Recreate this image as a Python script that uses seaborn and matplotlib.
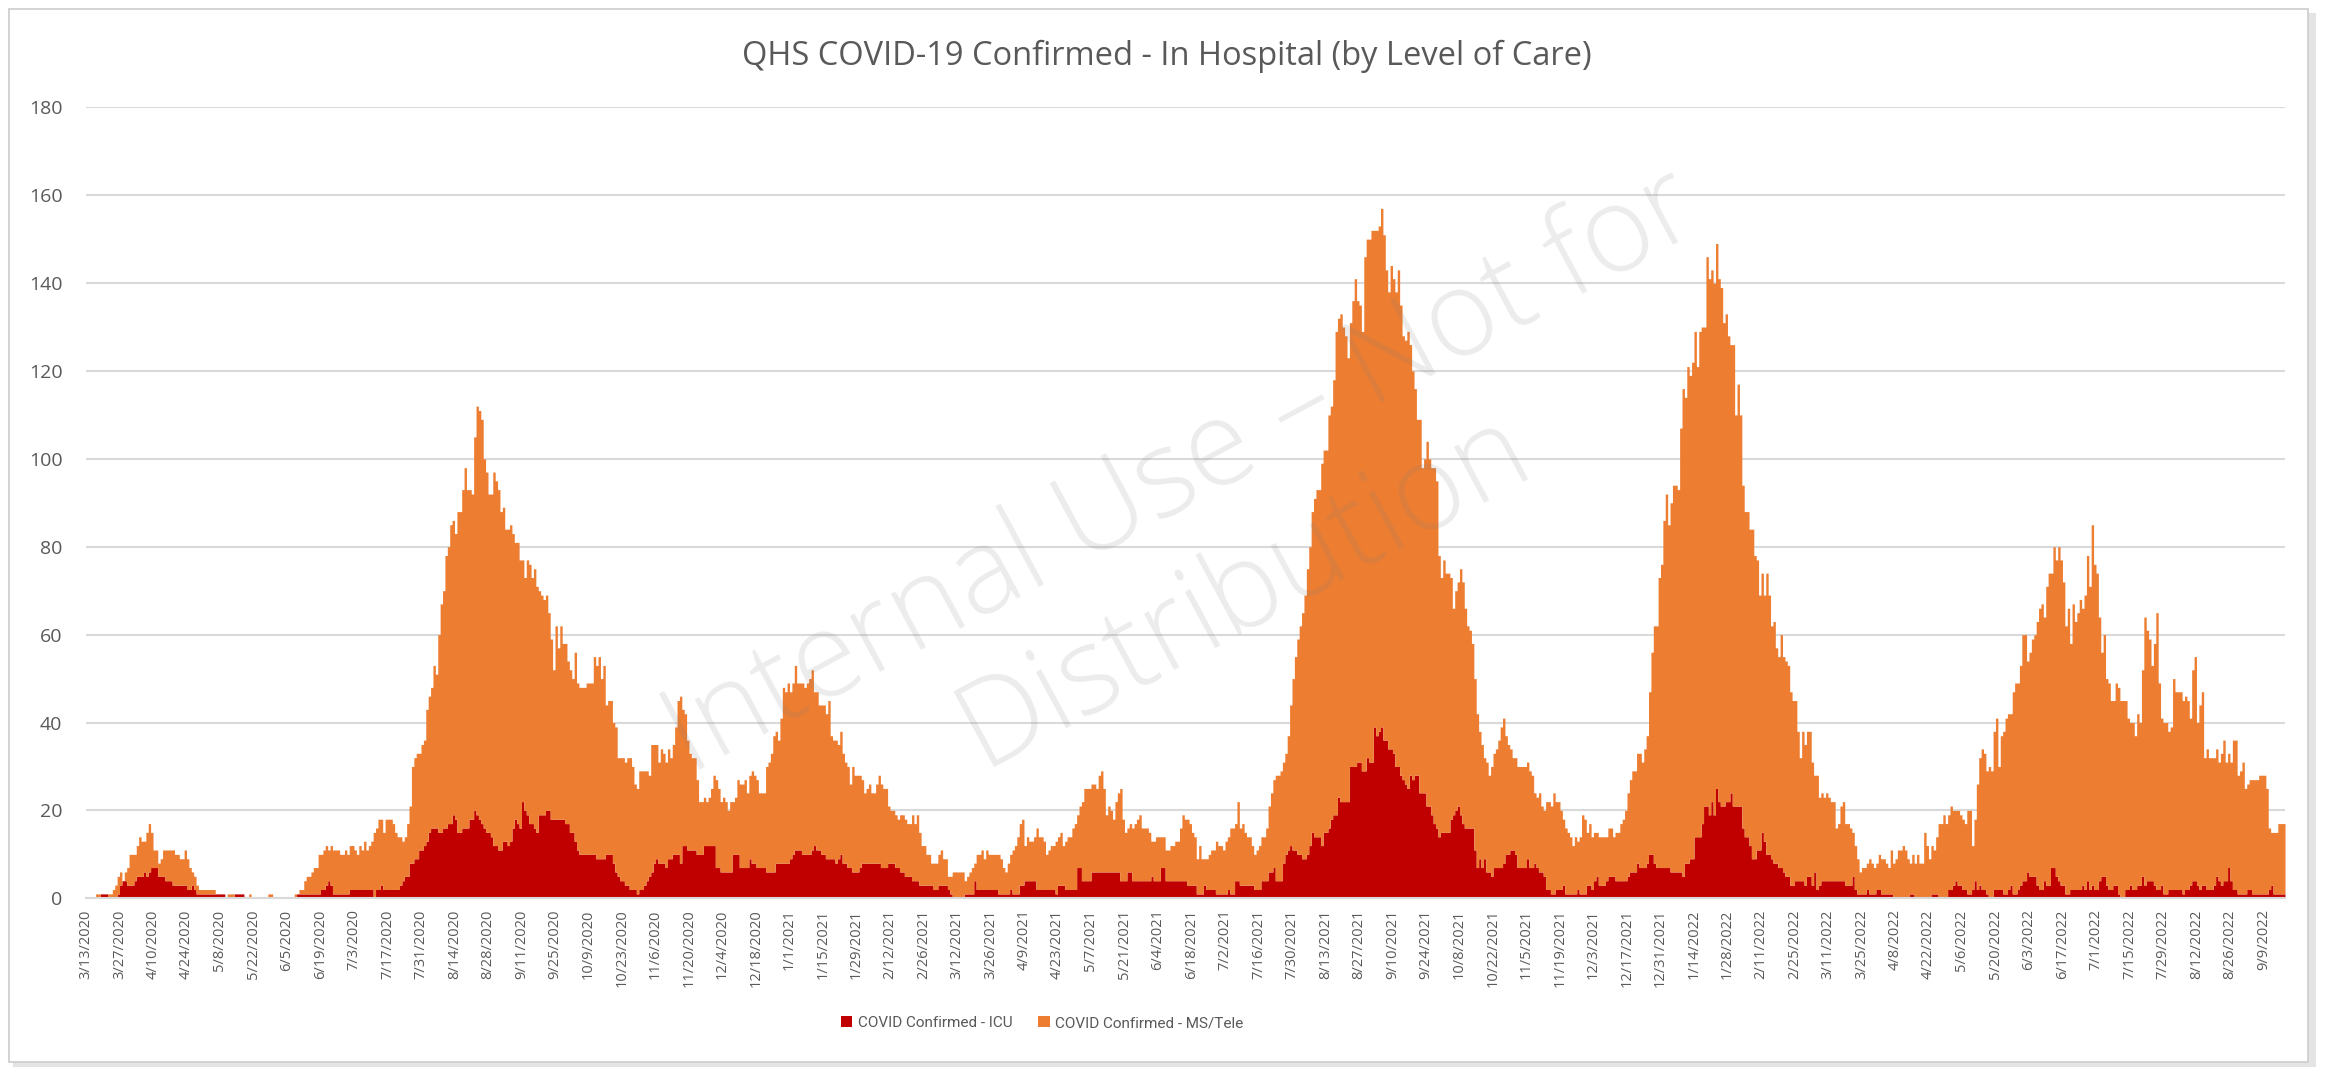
import numpy as np
import pandas as pd
import matplotlib
matplotlib.use("Agg")
import matplotlib.pyplot as plt
import seaborn as sns
from matplotlib.patches import Rectangle, Patch
from matplotlib import font_manager

# ---------------- data (daily census, starting 3/13/2020) ----------------
start_date = "2020-03-13"
series_icu = "COVID Confirmed - ICU"
series_ms = "COVID Confirmed - MS/Tele"
chart_title = "QHS COVID-19 Confirmed - In Hospital (by Level of Care)"
watermark_text = "Internal Use \u2013 Not for\nDistribution"

# total patients in hospital (ICU + MS/Tele) per day
total_in_hospital = [
    0, 0, 0, 0, 1, 1, 1, 1, 1, 1, 1, 2, 3, 5,
    6, 4, 6, 7, 10, 10, 10, 12, 14, 13, 13, 15, 17, 15,
    11, 11, 8, 9, 11, 11, 11, 11, 11, 10, 10, 9, 9, 11,
    9, 7, 6, 5, 3, 2, 2, 2, 2, 2, 2, 2, 1, 1,
    1, 1, 0, 1, 1, 1, 1, 1, 1, 1, 0, 0, 1, 0,
    0, 0, 0, 0, 0, 0, 1, 1, 0, 0, 0, 0, 0, 0,
    0, 0, 0, 1, 1, 2, 2, 4, 5, 5, 6, 7, 7, 10,
    10, 11, 12, 11, 12, 11, 11, 11, 10, 10, 11, 10, 12, 12,
    11, 10, 12, 11, 13, 11, 12, 13, 15, 16, 18, 18, 15, 18,
    18, 18, 17, 15, 14, 14, 13, 14, 17, 21, 30, 32, 33, 33,
    35, 36, 43, 46, 48, 53, 51, 60, 67, 70, 78, 80, 85, 86,
    83, 88, 88, 93, 98, 93, 93, 92, 105, 112, 111, 109, 100, 97,
    92, 92, 97, 95, 93, 88, 89, 84, 84, 85, 83, 81, 81, 77,
    77, 73, 77, 76, 73, 75, 71, 70, 69, 68, 69, 65, 59, 52,
    62, 57, 62, 58, 58, 54, 52, 50, 56, 49, 48, 48, 48, 49,
    49, 49, 55, 53, 55, 50, 53, 44, 45, 45, 40, 39, 32, 32,
    32, 31, 32, 32, 30, 26, 25, 29, 29, 29, 29, 28, 35, 35,
    35, 31, 34, 33, 31, 34, 32, 35, 39, 45, 46, 43, 42, 36,
    33, 32, 32, 27, 22, 22, 23, 22, 23, 25, 28, 27, 25, 22,
    23, 22, 20, 22, 22, 23, 27, 26, 26, 27, 24, 28, 29, 28,
    27, 24, 24, 24, 30, 31, 33, 37, 38, 36, 41, 48, 47, 49,
    47, 49, 53, 49, 49, 49, 48, 49, 50, 52, 47, 47, 44, 44,
    44, 42, 45, 37, 36, 36, 35, 38, 33, 31, 30, 26, 30, 28,
    28, 28, 27, 24, 25, 26, 24, 24, 26, 28, 26, 25, 25, 21,
    20, 20, 19, 18, 19, 19, 18, 17, 17, 19, 17, 19, 15, 12,
    12, 10, 10, 8, 8, 8, 10, 11, 9, 9, 5, 5, 6, 6,
    6, 6, 6, 4, 5, 6, 7, 8, 10, 10, 11, 9, 11, 10,
    10, 10, 10, 10, 9, 7, 6, 8, 10, 11, 12, 14, 17, 18,
    12, 14, 13, 13, 14, 16, 14, 14, 13, 10, 11, 12, 12, 13,
    14, 15, 12, 13, 14, 14, 16, 17, 19, 21, 22, 25, 25, 25,
    26, 26, 25, 28, 29, 25, 19, 21, 20, 18, 22, 24, 25, 18,
    15, 16, 17, 16, 17, 18, 19, 16, 16, 16, 15, 13, 13, 14,
    14, 14, 14, 11, 11, 12, 12, 13, 13, 16, 19, 18, 18, 17,
    15, 14, 9, 12, 9, 9, 9, 10, 11, 11, 13, 12, 12, 11,
    13, 14, 16, 16, 17, 22,
    16, 17, 15, 14, 14, 12, 10, 11, 12, 14, 14, 16, 21, 24,
    27, 28, 28, 29, 31, 33, 37, 44, 50, 55, 59, 62, 65, 69,
    75, 80, 88, 91, 93, 93, 99, 102, 102, 110, 112, 118, 129, 132,
    133, 130, 128, 123, 131, 136, 141, 136, 135, 129, 146, 150, 150, 152,
    152, 152, 153, 157, 151, 143, 138, 144, 141, 138, 143, 135, 128, 127,
    129, 126, 120, 116, 109, 109, 98, 100, 104, 100, 98, 98, 95, 78,
    73, 77, 74, 74, 73, 66, 70, 72, 75, 72, 66, 62, 61, 58,
    50, 42,
    38, 35, 32, 31, 28, 30, 33, 34, 36, 39, 41, 37, 35, 34,
    32, 32, 30, 30, 30, 30, 31, 29, 28, 24, 23, 24, 21, 20,
    22, 22, 21, 24, 22, 22, 20, 18, 16, 15, 14, 12, 14, 13,
    14, 19, 18, 15, 17, 14, 15, 15,
    14, 14, 14, 14, 16, 16, 14, 15, 15, 17, 18, 20, 24, 27,
    29, 29, 33, 33, 31, 34, 37, 47, 56, 62, 62, 73, 76, 86,
    92, 85, 90, 94, 94, 93, 107, 116, 114, 121, 119, 122, 129, 121,
    129, 130, 130, 146, 141, 143, 140, 149, 141, 139, 131, 133, 128, 126,
    126, 110, 117, 110, 94, 88, 88, 84, 84, 78, 77, 69, 74, 69,
    74, 69, 62, 63, 57, 55, 60, 55, 54, 53, 47, 45, 45, 38,
    32, 38, 35, 38, 38, 31, 28, 28, 23, 24, 23, 24, 23, 22,
    22, 16, 17, 21, 22, 17, 17, 16, 15, 12, 9, 6, 7, 7,
    8, 9, 8, 7, 8, 10, 9, 9, 8, 7, 11, 8, 9, 11,
    11, 12, 11, 9, 8, 10, 8, 10, 8, 8, 15, 12, 9, 12,
    11, 14, 17, 17, 19, 17, 19, 21, 20, 20, 20, 19, 18, 17,
    20, 20, 12, 18, 26, 32, 34, 33, 29, 30, 29, 38, 41, 30,
    37, 38, 41, 42, 42, 47, 49, 49, 53, 60, 60, 54, 56, 59,
    60, 63, 66, 67, 64, 71, 74, 74, 80, 77, 80, 77, 72, 62,
    66, 58, 67, 63, 65, 68, 66, 69, 78, 71, 85, 76, 74, 64,
    56, 60, 50, 49, 45, 45, 49, 48, 45, 45, 45, 41, 40, 40,
    37, 42, 40, 52, 64, 61, 59, 53, 58, 65, 49, 41, 40, 40,
    38, 39, 50, 47, 47, 47, 45, 46, 45, 41, 52, 55, 40, 44,
    47, 32, 34, 32, 32, 32, 34, 31, 33, 36, 31, 33, 31, 36,
    36, 28, 29, 31, 25, 26, 27, 27, 27, 27, 28, 28, 28, 25,
    16, 15, 15, 15, 17, 17, 17,
]

# ICU patients per day (bottom, dark red segment)
icu = [
    0, 0, 0, 0, 0, 0, 1, 1, 1, 0, 0, 0, 0, 1,
    3, 4, 4, 3, 3, 3, 4, 5, 5, 5, 6, 5, 6, 7,
    7, 7, 5, 5, 5, 4, 4, 4, 3, 3, 3, 3, 3, 3,
    2, 2, 3, 2, 1, 1, 1, 1, 1, 1, 1, 1, 1, 1,
    1, 1, 0, 0, 0, 0, 1, 1, 1, 1, 0, 0, 0, 0,
    0, 0, 0, 0, 0, 0, 0, 0, 0, 0, 0, 0, 0, 0,
    0, 0, 0, 0, 1, 1, 1, 1, 1, 1, 1, 1, 1, 1,
    2, 2, 3, 4, 3, 1, 1, 1, 1, 1, 1, 1, 2, 2,
    2, 2, 2, 2, 2, 2, 2, 2, 0, 2, 2, 3, 2, 2,
    2, 2, 2, 2, 2, 3, 4, 5, 5, 8, 8, 9, 9, 11,
    11, 12, 13, 15, 16, 16, 16, 15, 15, 16, 16, 17, 17, 19,
    18, 15, 15, 16, 16, 16, 18, 18, 20, 19, 18, 17, 16, 15,
    15, 14, 12, 12, 11, 11, 13, 13, 12, 13, 16, 18, 17, 16,
    22, 20, 19, 17, 17, 16, 15, 19, 19, 19, 20, 20, 18, 18,
    18, 18, 18, 18, 17, 17, 15, 15, 13, 11, 10, 10, 10, 10,
    10, 10, 10, 9, 9, 9, 9, 10, 10, 10, 8, 6, 5, 4,
    4, 3, 3, 2, 2, 2, 1, 2, 2, 3, 4, 5, 6, 8,
    9, 8, 8, 8, 7, 9, 9, 10, 10, 10, 8, 12, 12, 11,
    11, 11, 11, 10, 10, 10, 12, 12, 12, 12, 12, 7, 7, 6,
    6, 6, 6, 6, 10, 10, 10, 7, 7, 7, 7, 9, 8, 8,
    7, 7, 7, 7, 6, 6, 6, 6, 8, 8, 8, 8, 8, 8,
    9, 10, 11, 11, 11, 10, 10, 10, 10, 11, 12, 11, 11, 10,
    10, 9, 9, 9, 9, 8, 9, 10, 8, 8, 7, 7, 6, 6,
    6, 7, 8, 8, 8, 8, 8, 8, 8, 8, 7, 7, 7, 8,
    8, 8, 7, 7, 6, 6, 5, 5, 5, 4, 4, 4, 3, 3,
    3, 3, 3, 3, 2, 2, 3, 3, 3, 3, 2, 1, 0, 0,
    0, 0, 0, 1, 1, 1, 1, 4, 2, 2, 2, 2, 2, 2,
    2, 2, 2, 1, 1, 1, 1, 1, 2, 1, 1, 1, 3, 3,
    4, 4, 4, 4, 4, 2, 2, 2, 2, 2, 2, 2, 2, 1,
    3, 3, 3, 2, 2, 2, 2, 2, 7, 7, 4, 4, 4, 4,
    6, 6, 6, 6, 6, 6, 6, 6, 6, 6, 6, 6, 4, 4,
    4, 6, 6, 4, 4, 4, 4, 4, 4, 4, 4, 5, 4, 4,
    4, 7, 7, 4, 4, 4, 4, 4, 4, 4, 4, 4, 3, 3,
    3, 3, 1, 1, 1, 3, 2, 2, 2, 2, 1, 1, 1, 1,
    1, 2, 1, 1, 4, 4,
    3, 3, 3, 3, 3, 3, 2, 2, 2, 4, 4, 4, 6, 6,
    7, 4, 4, 4, 8, 10, 11, 12, 11, 11, 10, 10, 9, 9,
    10, 12, 15, 14, 14, 14, 12, 15, 15, 16, 18, 19, 19, 23,
    22, 22, 22, 22, 30, 30, 30, 31, 31, 29, 29, 32, 31, 31,
    39, 37, 38, 39, 36, 36, 34, 34, 33, 30, 30, 28, 27, 26,
    25, 28, 27, 28, 28, 24, 24, 24, 21, 21, 19, 17, 16, 14,
    15, 15, 15, 15, 18, 19, 20, 21, 19, 17, 16, 16, 16, 16,
    11, 7,
    9, 7, 9, 6, 6, 5, 7, 7, 7, 7, 8, 10, 10, 11,
    11, 10, 7, 7, 7, 7, 9, 7, 7, 8, 7, 6, 6, 5,
    2, 2, 1, 1, 2, 2, 2, 3, 1, 1, 1, 1, 1, 2,
    1, 1, 1, 3, 3, 2, 4, 5,
    3, 3, 3, 4, 5, 5, 5, 4, 4, 4, 4, 4, 5, 6,
    6, 6, 8, 7, 7, 7, 8, 10, 10, 8, 7, 7, 7, 7,
    7, 7, 6, 6, 6, 6, 6, 5, 8, 8, 9, 9, 14, 14,
    14, 17, 21, 21, 19, 22, 19, 25, 22, 21, 21, 22, 22, 24,
    21, 21, 21, 21, 16, 14, 14, 12, 9, 9, 11, 11, 15, 13,
    10, 10, 9, 8, 8, 7, 7, 6, 5, 5, 3, 3, 4, 4,
    4, 4, 3, 5, 5, 3, 6, 2, 3, 4, 4, 4, 4, 4,
    4, 4, 4, 4, 4, 3, 3, 3, 5, 2, 1, 1, 1, 1,
    2, 1, 1, 1, 2, 2, 1, 1, 1, 1, 1, 0, 0, 0,
    0, 0, 0, 0, 1, 1, 0, 0, 0, 0, 0, 0, 0, 1,
    1, 1, 0, 0, 0, 0, 2, 2, 3, 4, 3, 3, 2, 2,
    1, 1, 2, 4, 2, 3, 2, 2, 1, 0, 0, 2, 2, 2,
    2, 1, 1, 2, 3, 1, 1, 2, 3, 4, 4, 6, 5, 5,
    5, 3, 2, 2, 4, 3, 3, 7, 7, 5, 4, 3, 3, 1,
    1, 2, 2, 2, 2, 2, 3, 2, 4, 2, 3, 2, 2, 4,
    5, 5, 3, 2, 2, 3, 3, 1, 0, 0, 2, 2, 3, 2,
    2, 3, 3, 5, 3, 4, 4, 4, 3, 2, 2, 3, 1, 1,
    2, 2, 2, 2, 2, 2, 1, 2, 2, 3, 4, 4, 3, 2,
    3, 3, 2, 2, 2, 3, 5, 4, 3, 4, 4, 7, 4, 2,
    2, 1, 1, 1, 1, 2, 2, 1, 1, 1, 1, 1, 1, 1,
    2, 3, 1, 1, 1, 1, 1,
]

y_ticks = [0, 20, 40, 60, 80, 100, 120, 140, 160, 180]
label_every_days = 14

# ---------------- derived frame ----------------
total_arr = np.array(total_in_hospital, dtype=float)
icu_arr = np.array(icu, dtype=float)
n = min(len(total_arr), len(icu_arr))
total_arr, icu_arr = total_arr[:n], icu_arr[:n]
ms_arr = np.clip(total_arr - icu_arr, 0, None)
days = np.arange(n)
dates = pd.date_range(start_date, periods=n, freq="D")
tick_days = days[::label_every_days]
tick_labels = [f"{d.month}/{d.day}/{d.year}" for d in dates[::label_every_days]]

df = pd.DataFrame({
    "day": np.concatenate([days, days]),
    "patients": np.concatenate([ms_arr, icu_arr]),
    "level": [series_ms] * n + [series_icu] * n,
})

# ---------------- style ----------------
sns.set_theme(style="white")
avail = {f.name for f in font_manager.fontManager.ttflist}
base_font = "Open Sans" if "Open Sans" in avail else "DejaVu Sans"
legend_font = "Roboto" if "Roboto" in avail else base_font
plt.rcParams["font.family"] = [base_font, "DejaVu Sans"]

RED = "#C00000"
ORANGE = "#ED7D31"
GRID = "#D9D9D9"
TXT = "#595959"

W, H = 2331, 1067
fig = plt.figure(figsize=(W / 100, H / 100), dpi=100)
fig.patch.set_facecolor("white")

# chart-area frame with soft shadow
fig.add_artist(Rectangle((13 / W, 1 - 1067 / H), (2316 - 13) / W, (1067 - 13) / H,
                         transform=fig.transFigure, facecolor="#e4e4e4",
                         edgecolor="none", zorder=-3))
fig.add_artist(Rectangle((9 / W, 1 - 1062 / H), (2308 - 9) / W, (1062 - 9) / H,
                         transform=fig.transFigure, facecolor="white",
                         edgecolor="#d0d0d0", lw=1.3, zorder=-2))

left_px, right_px, top_px, base_px = 86, 2285, 107.3, 898.3
ax = fig.add_axes([left_px / W, 1 - base_px / H, (right_px - left_px) / W,
                   (base_px - top_px) / H])
ax.set_facecolor("none")

sns.histplot(data=df, x="day", weights="patients", hue="level",
             hue_order=[series_ms, series_icu], multiple="stack",
             discrete=True, element="step", fill=True, alpha=1, linewidth=0,
             palette={series_icu: RED, series_ms: ORANGE}, legend=False, ax=ax)

ax.set_xlim(-0.5, n - 0.5)
ax.set_ylim(0, 180)
ax.set_yticks(y_ticks)
ax.set_yticklabels([str(v) for v in y_ticks], fontsize=14, color=TXT)
ax.set_xticks(tick_days - 0.5)
ax.set_xticklabels(tick_labels, rotation=90, fontsize=10.5, color=TXT,
                   ha="center", va="top")
ax.tick_params(axis="y", length=0, pad=17)
ax.tick_params(axis="x", length=6, width=1.2, color=GRID, pad=2, direction="out")
ax.set_xlabel("")
ax.set_ylabel("")
ax.yaxis.grid(True, color=GRID, linewidth=1.5)
ax.xaxis.grid(False)
ax.set_axisbelow(True)
for s in ["top", "right", "left"]:
    ax.spines[s].set_visible(False)
ax.spines["bottom"].set_color(GRID)
ax.spines["bottom"].set_linewidth(1.5)

# title
fig.text(1167 / W, 1 - 56 / H, chart_title, ha="center", va="center",
         fontsize=23.5, color=TXT)

# watermark
fig.text(1214 / W, 1 - 532 / H, watermark_text, ha="center", va="center",
         rotation=28.3, fontsize=86, color="#7f7f7f", alpha=0.15,
         linespacing=1.12, multialignment="center", fontweight="light",
         rotation_mode="anchor", zorder=5)

# legend
handles = [Patch(facecolor=RED, edgecolor="none", label=series_icu),
           Patch(facecolor=ORANGE, edgecolor="none", label=series_ms)]
leg = fig.legend(handles=handles, loc="center", bbox_to_anchor=(1042 / W, 1 - 1023 / H),
                 ncol=2, frameon=False, handlelength=0.75, handleheight=0.75,
                 handletextpad=0.35, columnspacing=1.7,
                 prop={"family": [legend_font, "DejaVu Sans"], "size": 11})
for t in leg.get_texts():
    t.set_color(TXT)

fig.savefig("out.png", dpi=100, facecolor="white")
